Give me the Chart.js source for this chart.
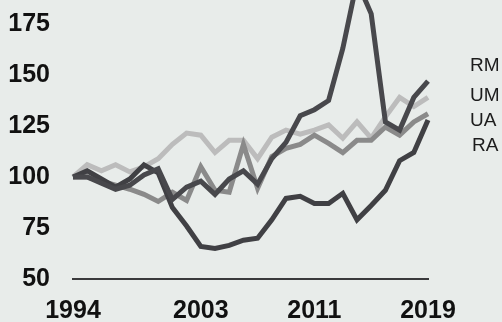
<!DOCTYPE html>
<html>
<head>
<meta charset="utf-8">
<script src="https://cdn.jsdelivr.net/npm/chart.js@4"></script>
<style>
  html, body { margin: 0; padding: 0; background: #e8ecea; }
  #wrap { width: 502px; height: 322px; }
</style>
</head>
<body>
<div id="wrap"><canvas id="c" width="502" height="322"></canvas></div>
<script>
// Index values (1994 = 100)
const years = [1994, 1995, 1996, 1997, 1998, 1999, 2000, 2001, 2002, 2003, 2004, 2005, 2006,
               2007, 2008, 2009, 2010, 2011, 2012, 2013, 2014, 2015, 2016, 2017, 2018, 2019];
const rm = [100, 100, 97, 94, 96, 101, 104, 89, 95, 98, 91.5, 99, 103,
            96.5, 109, 117, 130, 133, 137.5, 163, 196, 180, 127, 123, 139, 147];
const um = [100, 106, 103, 106, 102.5, 105, 109, 116, 121.5, 120.5, 112, 118, 118,
            109, 119.5, 123, 121, 123, 125.5, 119, 127, 119, 129.5, 139, 134.5, 139];
const ua = [100, 100, 98, 96, 94, 91.5, 88, 92.5, 88.5, 105, 93.5, 92.5, 116,
            94.5, 110, 114, 116, 120.5, 116.5, 112, 118, 118, 124.5, 120.5, 127, 131];
const ra = [100, 103, 99, 95, 99, 106, 102, 85, 76, 66, 65, 66.5, 69,
            70, 79, 89.5, 90.5, 87, 87, 92, 79, 86, 93.5, 108, 112, 128];

const xTicks = [1994, 2003, 2011, 2019];
const yTicks = [50, 75, 100, 125, 150, 175];
const seriesNames = ['RM', 'UM', 'UA', 'RA'];

const pts = vals => vals.map((v, i) => ({ x: years[i], y: v }));

const DARK = '#48484c';
const DARK2 = '#404044';
const MID = '#8a8a8a';
const LIGHT = '#bcbcbc';

const bgPlugin = {
  id: 'bg',
  beforeDraw(chart) {
    const ctx = chart.ctx;
    ctx.save();
    ctx.fillStyle = '#e8ecea';
    ctx.fillRect(0, 0, chart.width, chart.height);
    ctx.restore();
  }
};

// Plain text key on the right
const keyPlugin = {
  id: 'textKey',
  afterDraw(chart) {
    const ctx = chart.ctx;
    ctx.save();
    ctx.font = '19px "Liberation Sans", Arial, sans-serif';
    ctx.fillStyle = '#1c1c1c';
    ctx.textBaseline = 'middle';
    ctx.textAlign = 'left';
    const xs = [470, 470, 470, 472];
    const ys = [66, 96, 121, 146];
    seriesNames.forEach((name, i) => ctx.fillText(name, xs[i], ys[i]));
    ctx.restore();
  }
};

const lineStyle = (color, order) => ({
  borderColor: color,
  backgroundColor: color,
  borderWidth: 5,
  pointRadius: 0,
  tension: 0,
  fill: false,
  clip: false,
  order: order
});

new Chart(document.getElementById('c'), {
  type: 'line',
  data: {
    datasets: [
      Object.assign({ label: seriesNames[0], data: pts(rm) }, lineStyle(DARK, 0)),
      Object.assign({ label: seriesNames[1], data: pts(um) }, lineStyle(LIGHT, 3)),
      Object.assign({ label: seriesNames[2], data: pts(ua) }, lineStyle(MID, 2)),
      Object.assign({ label: seriesNames[3], data: pts(ra) }, lineStyle(DARK2, 1))
    ]
  },
  options: {
    responsive: false,
    animation: false,
    devicePixelRatio: 1,
    layout: { padding: { left: 0, right: 74, top: 24, bottom: 0 } },
    plugins: {
      legend: { display: false },
      tooltip: { enabled: false }
    },
    scales: {
      x: {
        type: 'linear',
        min: years[0],
        max: years[years.length - 1],
        afterFit(scale) {
          scale.height = 43;
          scale.paddingLeft = 0;
          scale.paddingRight = 0;
        },
        afterBuildTicks(scale) { scale.ticks = xTicks.map(v => ({ value: v })); },
        grid: { display: false, drawTicks: false },
        border: { display: true, color: '#3a3a3c', width: 2 },
        ticks: {
          autoSkip: false,
          maxRotation: 0,
          padding: 17,
          color: '#111',
          font: { family: '"Liberation Sans", Arial, sans-serif', size: 25, weight: 'bold' },
          callback: v => String(v)
        }
      },
      y: {
        min: 50,
        max: 175,
        afterFit(scale) {
          scale.width = 73;
          scale.paddingTop = 0;
          scale.paddingBottom = 0;
        },
        afterBuildTicks(scale) { scale.ticks = yTicks.map(v => ({ value: v })); },
        grid: { display: false, drawTicks: false },
        border: { display: false },
        ticks: {
          padding: 23,
          color: '#111',
          font: { family: '"Liberation Sans", Arial, sans-serif', size: 25, weight: 'bold' },
          callback: v => String(v)
        }
      }
    }
  },
  plugins: [bgPlugin, keyPlugin]
});
</script>
</body>
</html>
